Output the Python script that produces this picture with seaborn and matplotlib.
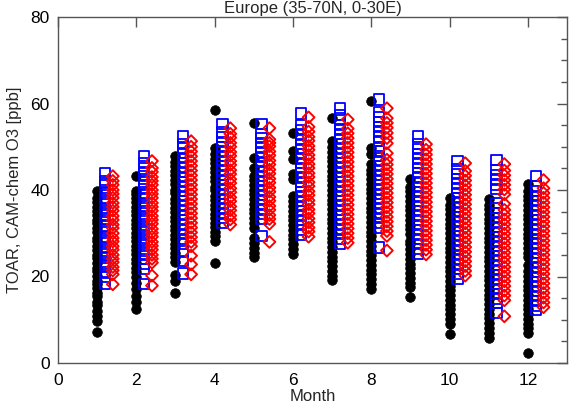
import numpy as np
import pandas as pd
import matplotlib
matplotlib.use("Agg")
import matplotlib.pyplot as plt
import seaborn as sns
from matplotlib.ticker import MultipleLocator

months = [1, 2, 3, 4, 5, 6, 7, 8, 9, 10, 11, 12]

# TOAR observations (black filled circles), ppb
toar_vals = [
    [7.2, 9.6, 10.8, 12.1, 13.3, 14.2, 15.4, 16.1, 17.3, 18.2, 19.0, 20.1, 21.2, 22.0, 23.1, 24.3, 25.0, 26.2, 27.1, 28.3, 29.0, 30.2, 31.1, 32.3, 33.0, 34.2, 35.1, 36.0, 37.2, 38.1, 39.8],
    [12.6, 14.0, 15.5, 17.2, 18.6, 19.8, 21.0, 21.9, 23.1, 24.0, 25.2, 26.1, 27.0, 28.2, 29.1, 30.0, 31.2, 32.1, 33.0, 34.2, 35.1, 36.0, 37.2, 38.1, 39.0, 39.8, 43.2],
    [16.2, 19.0, 20.4, 23.3, 24.5, 25.4, 26.6, 27.5, 28.7, 29.6, 30.8, 31.7, 32.9, 33.8, 35.0, 35.9, 37.1, 38.0, 39.2, 40.1, 41.3, 42.2, 43.4, 44.3, 45.5, 46.4, 47.8],
    [23.2, 28.3, 29.4, 30.3, 31.5, 32.4, 33.6, 34.5, 35.7, 36.6, 37.8, 38.7, 39.9, 40.8, 42.0, 42.9, 44.1, 45.0, 46.2, 47.1, 48.3, 49.7, 58.6],
    [24.4, 25.5, 26.6, 27.8, 29.0, 31.3, 32.4, 33.5, 34.6, 35.7, 36.8, 37.9, 39.0, 40.1, 41.2, 42.3, 43.2, 45.0, 47.4, 55.6],
    [25.3, 26.4, 27.5, 28.6, 29.7, 30.8, 31.9, 33.0, 34.1, 35.2, 36.3, 37.4, 38.6, 42.5, 43.8, 47.2, 49.0, 53.1],
    [19.1, 20.2, 21.3, 22.4, 23.5, 24.6, 25.7, 26.8, 27.9, 29.0, 30.1, 31.2, 32.3, 33.4, 34.5, 35.6, 36.7, 37.8, 38.9, 40.0, 41.1, 42.2, 43.3, 44.4, 45.5, 46.6, 47.7, 48.8, 49.9, 51.3, 56.6],
    [17.2, 18.3, 19.4, 20.5, 21.6, 22.7, 23.8, 24.9, 26.0, 27.1, 28.2, 29.3, 30.4, 31.5, 32.6, 33.7, 34.8, 35.9, 37.0, 38.1, 39.2, 40.3, 41.4, 42.5, 43.6, 44.7, 46.0, 48.3, 49.7, 60.5],
    [15.2, 17.5, 18.6, 19.7, 20.8, 21.9, 23.0, 24.1, 25.2, 26.3, 27.4, 28.3, 29.8, 30.9, 32.0, 33.1, 34.2, 35.3, 36.4, 37.5, 38.6, 39.7, 40.8, 42.5],
    [6.6, 9.0, 10.2, 11.3, 12.4, 13.5, 14.6, 15.7, 16.8, 17.9, 19.0, 20.1, 21.2, 22.3, 23.4, 24.5, 25.6, 26.7, 27.8, 28.9, 30.0, 31.1, 32.2, 33.3, 34.4, 35.5, 36.6, 38.2],
    [5.8, 7.0, 8.1, 9.2, 10.3, 11.4, 12.5, 13.6, 14.7, 15.8, 16.9, 18.0, 19.1, 20.2, 21.3, 22.4, 23.5, 24.6, 25.7, 26.8, 27.9, 29.0, 30.1, 31.2, 32.3, 33.4, 34.5, 35.6, 36.5, 37.9],
    [2.3, 6.9, 8.0, 9.1, 10.2, 11.3, 12.4, 13.5, 14.6, 15.7, 16.8, 17.9, 19.0, 20.1, 21.2, 22.6, 24.4, 25.5, 26.6, 27.7, 28.8, 29.9, 31.0, 32.1, 33.2, 34.3, 35.4, 36.5, 37.6, 38.7, 39.8, 41.4],
]

# CAM-chem run 1 (blue open squares), ppb
cam1_vals = [
    [18.4, 20.0, 21.1, 22.3, 23.0, 24.2, 25.1, 26.0, 26.9, 28.1, 29.0, 30.2, 31.0, 31.8, 33.0, 34.1, 35.0, 35.9, 37.1, 38.0, 39.2, 40.0, 41.1, 42.0, 43.9],
    [18.3, 21.8, 22.9, 24.0, 25.1, 26.0, 27.2, 28.1, 29.0, 30.2, 31.1, 32.0, 33.2, 34.0, 35.1, 36.2, 37.0, 38.1, 39.0, 40.2, 41.1, 42.0, 43.2, 44.1, 45.0, 46.2, 47.9],
    [20.7, 23.6, 25.8, 27.6, 28.7, 29.8, 30.9, 32.0, 33.1, 34.2, 35.3, 36.4, 37.5, 38.6, 39.7, 40.8, 41.9, 43.0, 44.1, 45.2, 46.3, 47.4, 48.5, 49.6, 50.7, 52.4],
    [32.4, 33.5, 34.6, 35.7, 36.8, 37.9, 39.0, 40.1, 41.2, 42.3, 43.4, 44.5, 45.6, 46.7, 47.8, 48.9, 50.0, 51.1, 52.2, 53.3, 55.2],
    [29.4, 33.3, 34.4, 35.5, 36.6, 37.7, 38.8, 39.9, 41.0, 42.1, 43.2, 44.3, 45.4, 46.5, 47.6, 48.7, 49.8, 50.9, 52.0, 52.9, 55.2],
    [29.7, 30.8, 31.9, 33.0, 34.1, 35.2, 36.3, 37.4, 38.5, 39.6, 40.7, 41.8, 42.9, 44.0, 45.1, 46.2, 47.3, 48.4, 49.5, 50.6, 51.7, 52.8, 53.9, 55.0, 57.7],
    [27.6, 28.7, 29.8, 30.9, 32.0, 33.1, 34.2, 35.3, 36.4, 37.5, 38.6, 39.7, 40.8, 41.9, 43.0, 44.1, 45.2, 46.3, 47.4, 48.5, 49.6, 50.7, 51.8, 52.9, 54.0, 55.1, 56.2, 57.3, 59.0],
    [26.7, 31.3, 32.4, 33.5, 34.6, 35.7, 36.8, 37.9, 39.0, 40.1, 41.2, 42.3, 43.4, 44.5, 45.6, 46.7, 47.8, 48.9, 49.7, 51.3, 52.4, 53.5, 54.6, 55.7, 56.8, 58.0, 60.9],
    [25.3, 26.4, 27.5, 28.6, 29.7, 30.8, 31.9, 33.0, 34.1, 35.2, 36.3, 37.4, 38.5, 39.6, 40.7, 41.8, 42.9, 44.0, 45.1, 46.2, 47.3, 48.4, 49.5, 50.6, 52.4],
    [19.5, 20.6, 21.7, 22.8, 23.9, 25.0, 26.1, 27.2, 28.3, 29.4, 30.5, 31.6, 32.7, 33.8, 34.9, 36.0, 37.1, 38.2, 39.3, 40.4, 41.5, 42.6, 43.7, 44.8, 46.7],
    [11.5, 13.8, 14.9, 16.0, 17.1, 18.2, 19.3, 20.4, 21.5, 22.6, 23.7, 24.8, 25.9, 27.0, 28.1, 29.2, 30.3, 31.4, 32.5, 33.6, 34.7, 35.8, 37.0, 40.2, 41.3, 42.4, 43.5, 44.6, 47.0],
    [12.2, 13.3, 14.4, 15.5, 16.6, 17.7, 18.8, 19.9, 21.0, 22.1, 23.2, 24.3, 25.4, 26.5, 27.6, 28.7, 29.8, 30.9, 32.0, 33.1, 34.2, 35.3, 36.4, 37.5, 38.6, 39.7, 40.8, 43.2],
]

# CAM-chem run 2 (red open diamonds), ppb
cam2_vals = [
    [18.2, 20.5, 21.4, 22.2, 23.3, 24.1, 25.0, 26.2, 27.0, 28.1, 28.9, 30.0, 31.2, 32.0, 33.1, 34.0, 35.2, 36.1, 37.0, 38.2, 39.1, 40.0, 41.2, 42.1, 43.2],
    [17.9, 20.2, 23.2, 24.1, 25.0, 26.2, 27.1, 28.0, 29.2, 30.1, 31.0, 32.2, 33.1, 34.0, 35.2, 36.1, 37.0, 38.2, 39.1, 40.0, 41.2, 42.1, 43.0, 44.2, 45.1, 46.7],
    [20.5, 22.8, 24.8, 27.0, 28.0, 29.1, 30.2, 31.3, 32.4, 33.5, 34.6, 35.7, 36.8, 37.9, 39.0, 40.1, 41.2, 42.3, 43.4, 44.5, 45.6, 46.7, 47.8, 48.9, 50.0, 51.3],
    [32.0, 33.2, 34.1, 35.3, 36.2, 37.4, 38.3, 39.5, 40.4, 41.6, 42.5, 43.7, 44.6, 45.8, 46.7, 47.9, 48.8, 50.0, 50.9, 52.1, 53.0, 54.3],
    [28.0, 32.2, 33.3, 34.2, 35.4, 36.3, 37.5, 38.4, 39.6, 40.5, 41.7, 42.6, 43.8, 44.7, 45.9, 46.8, 48.0, 48.9, 50.1, 50.9, 51.7, 54.3],
    [29.2, 30.4, 31.3, 32.5, 33.4, 34.6, 35.5, 36.7, 37.6, 38.8, 39.7, 40.9, 41.8, 43.0, 43.9, 45.1, 46.0, 47.2, 48.1, 49.3, 50.2, 51.4, 52.3, 53.5, 54.6, 56.8],
    [27.8, 28.9, 30.0, 31.1, 32.2, 33.3, 34.4, 35.5, 36.6, 37.7, 38.8, 39.9, 41.0, 42.1, 43.2, 44.3, 45.4, 46.5, 47.6, 48.7, 49.8, 50.9, 52.0, 53.1, 54.2, 56.3],
    [26.0, 29.4, 30.5, 31.6, 32.7, 33.8, 34.9, 36.0, 37.1, 38.2, 39.3, 40.4, 41.5, 42.6, 43.7, 44.8, 45.9, 47.0, 48.5, 50.8, 52.0, 53.2, 54.4, 55.5, 56.6, 58.9],
    [25.1, 26.2, 27.3, 28.4, 29.5, 30.6, 31.7, 32.8, 33.9, 35.0, 36.1, 37.2, 38.3, 39.4, 40.5, 41.6, 42.7, 43.8, 44.9, 46.0, 47.1, 48.2, 49.3, 50.6],
    [20.2, 21.3, 22.4, 23.5, 24.6, 25.7, 26.8, 27.9, 29.0, 30.1, 31.2, 32.3, 33.4, 34.5, 35.6, 36.7, 37.8, 38.9, 40.0, 41.1, 42.2, 43.3, 44.4, 46.2],
    [10.8, 14.5, 15.6, 16.7, 17.8, 18.9, 20.0, 21.1, 22.2, 23.3, 24.4, 25.5, 26.6, 27.7, 28.8, 29.9, 31.0, 32.1, 33.2, 34.3, 35.4, 36.8, 39.0, 40.1, 41.2, 42.3, 43.4, 44.5, 46.0],
    [12.9, 14.0, 15.1, 16.2, 17.3, 18.4, 19.5, 20.6, 21.7, 22.8, 23.9, 25.0, 26.1, 27.2, 28.3, 29.4, 30.5, 31.6, 32.7, 33.8, 34.9, 36.0, 37.1, 38.2, 39.3, 40.4, 42.3],
]

title = "Europe (35-70N, 0-30E)"
xlabel = "Month"
ylabel = "TOAR, CAM-chem O3 [ppb]"
xticks = [0, 2, 4, 6, 8, 10, 12]
yticks = [0, 20, 40, 60, 80]


def long_frame(vals, offset):
    rows = []
    for m, vs in zip(months, vals):
        for v in vs:
            rows.append((m + offset, v))
    return pd.DataFrame(rows, columns=["month", "o3"])


df_toar = long_frame(toar_vals, 0.0)
df_cam1 = long_frame(cam1_vals, 0.2)
df_cam2 = long_frame(cam2_vals, 0.4)

sns.set_theme(style="white")
plt.rcParams["font.family"] = ["Liberation Sans", "DejaVu Sans"]

fig = plt.figure(figsize=(5.7, 4.05), dpi=100)
ax = fig.add_axes([58 / 570, 1 - 363 / 405, (567 - 58) / 570, (363 - 17) / 405])

sns.scatterplot(data=df_toar, x="month", y="o3", ax=ax, marker="o", s=48,
                color="black", edgecolor="black", linewidth=0.5, zorder=2)
sns.scatterplot(data=df_cam1, x="month", y="o3", ax=ax, marker="s", s=55,
                facecolors="none", edgecolors="#0000ff", linewidth=1.3, zorder=3)
sns.scatterplot(data=df_cam2, x="month", y="o3", ax=ax, marker="D", s=36,
                facecolors="none", edgecolors="#ff0000", linewidth=1.4, zorder=4)

ax.set_xlim(0, 13)
ax.set_ylim(0, 80)
ax.set_xticks(xticks)
ax.set_xticklabels([str(t) for t in xticks])
ax.set_yticks(yticks)
ax.set_yticklabels([str(t) for t in yticks])
ax.yaxis.set_minor_locator(MultipleLocator(5))
ax.tick_params(axis="both", which="both", direction="in", top=True, right=True,
               labelsize=12.5, colors="#555555", labelcolor="black")
ax.tick_params(axis="both", which="major", length=7, width=1)
ax.tick_params(axis="x", which="major", pad=7)
ax.tick_params(axis="y", which="major", pad=6)
ax.tick_params(axis="y", which="minor", length=4, width=1)
for sp in ax.spines.values():
    sp.set_color("#555555")
    sp.set_linewidth(1.0)

ax.set_xlabel(xlabel, fontsize=12, labelpad=1)
ax.set_ylabel(ylabel, fontsize=12, labelpad=6)
fig.text((58 + 567) / 2 / 570, 1 - 13 / 405, title, ha="center", va="baseline", fontsize=12)

fig.savefig("out.png", dpi=100, facecolor="white")
